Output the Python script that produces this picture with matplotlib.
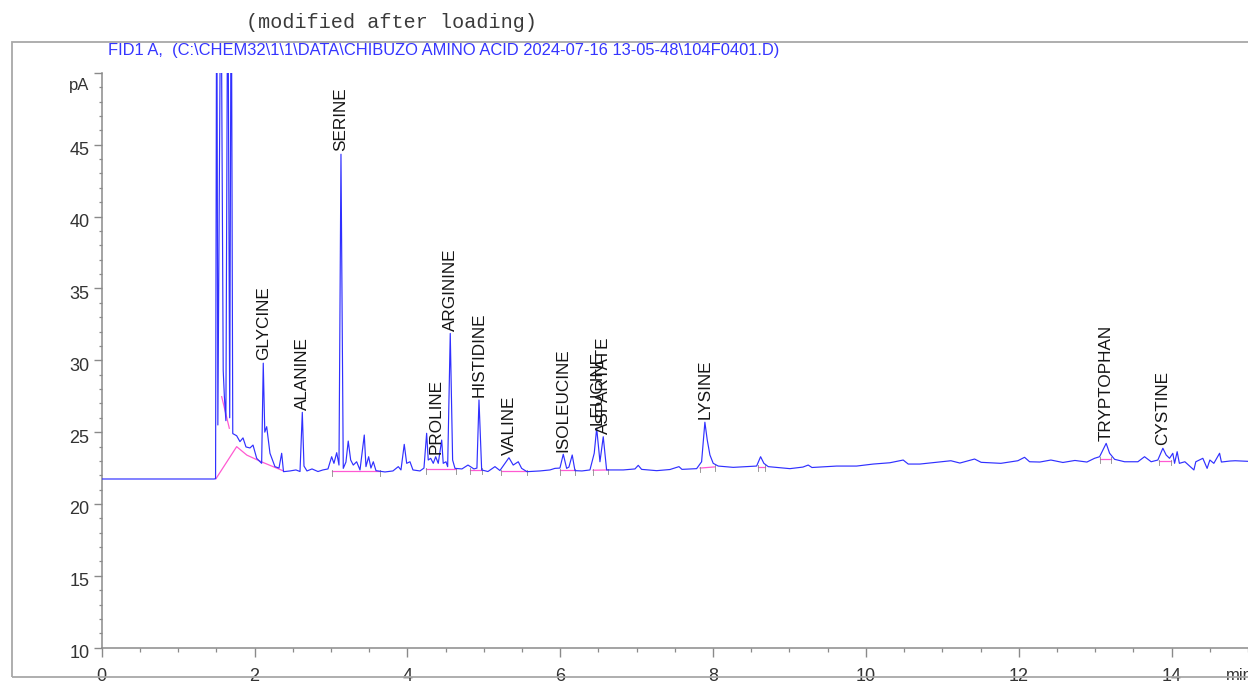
import matplotlib
matplotlib.use("Agg")
import matplotlib.pyplot as plt
import matplotlib.transforms as mtransforms
from matplotlib.ticker import MultipleLocator
from matplotlib.patches import Rectangle

# ---------------- data ----------------
trace_time = [
    0.000, 1.469, 1.490, 1.505, 1.520, 1.560, 1.590, 1.605, 1.625, 1.650,
    1.675, 1.695, 1.715, 1.766, 1.809, 1.849, 1.888, 1.940, 1.980, 2.028,
    2.093, 2.114, 2.134, 2.159, 2.202, 2.267, 2.320, 2.355, 2.379, 2.464,
    2.542, 2.595, 2.625, 2.647, 2.686, 2.752, 2.830, 2.895, 2.961, 3.009,
    3.039, 3.075, 3.105, 3.131, 3.161, 3.196, 3.226, 3.258, 3.292, 3.336,
    3.380, 3.436, 3.458, 3.493, 3.523, 3.554, 3.589, 3.707, 3.811, 3.881,
    3.916, 3.959, 3.991, 4.034, 4.073, 4.165, 4.217, 4.252, 4.273, 4.305,
    4.339, 4.370, 4.404, 4.449, 4.469, 4.505, 4.527, 4.561, 4.592, 4.623,
    4.714, 4.793, 4.871, 4.910, 4.937, 4.972, 5.054, 5.146, 5.211, 5.277,
    5.329, 5.385, 5.451, 5.495, 5.565, 5.735, 5.866, 5.931, 5.996, 6.040,
    6.084, 6.114, 6.157, 6.193, 6.284, 6.389, 6.445, 6.477, 6.520, 6.563,
    6.607, 6.825, 6.978, 7.021, 7.065, 7.262, 7.436, 7.554, 7.593, 7.785,
    7.850, 7.893, 7.924, 7.959, 8.002, 8.068, 8.264, 8.570, 8.622, 8.665,
    8.722, 9.006, 9.176, 9.245, 9.294, 9.617, 9.878, 10.096, 10.314, 10.488,
    10.554, 10.707, 11.112, 11.230, 11.422, 11.508, 11.766, 11.988, 12.076, 12.142,
    12.276, 12.421, 12.578, 12.735, 12.892, 12.992, 13.058, 13.144, 13.189, 13.254,
    13.385, 13.559, 13.646, 13.733, 13.820, 13.886, 13.929, 13.973, 14.016, 14.039,
    14.073, 14.102, 14.174, 14.292, 14.317, 14.409, 14.465, 14.501, 14.553, 14.628,
    14.652, 14.763, 14.833, 14.998,
]
trace_signal = [
    21.74, 21.74, 21.76, 60.00, 25.50, 60.00, 29.30, 27.50, 25.80, 60.00,
    26.00, 60.00, 24.90, 24.75, 24.34, 24.60, 23.97, 23.90, 24.10, 23.18,
    22.83, 29.80, 25.00, 25.38, 23.53, 22.60, 22.50, 23.53, 22.25, 22.30,
    22.37, 22.26, 26.38, 22.64, 22.30, 22.44, 22.26, 22.37, 22.44, 23.29,
    22.83, 23.57, 22.71, 44.34, 22.48, 22.92, 24.38, 23.06, 22.71, 22.94,
    22.37, 24.80, 22.60, 23.29, 22.50, 22.94, 22.32, 22.23, 22.30, 22.60,
    22.37, 24.15, 22.83, 22.94, 22.37, 22.30, 22.50, 24.92, 23.06, 23.18,
    22.83, 23.29, 22.83, 24.45, 22.83, 22.94, 22.60, 31.87, 23.06, 22.48,
    22.44, 22.71, 22.44, 22.50, 27.24, 22.37, 22.26, 22.60, 22.33, 22.83,
    23.22, 22.71, 22.94, 22.48, 22.25, 22.30, 22.37, 22.48, 22.50, 23.46,
    22.48, 22.57, 23.41, 22.32, 22.30, 22.37, 23.53, 25.27, 22.94, 24.68,
    22.37, 22.37, 22.44, 22.69, 22.41, 22.32, 22.40, 22.60, 22.41, 22.46,
    22.94, 25.69, 24.45, 23.41, 22.83, 22.64, 22.55, 22.64, 23.29, 22.83,
    22.60, 22.46, 22.57, 22.71, 22.54, 22.64, 22.64, 22.78, 22.87, 23.06,
    22.78, 22.78, 23.01, 22.85, 23.13, 22.90, 22.83, 23.01, 23.25, 22.94,
    22.92, 23.06, 22.89, 23.03, 22.92, 23.18, 23.29, 24.22, 23.53, 23.11,
    22.94, 22.94, 23.29, 22.94, 23.06, 23.88, 23.41, 23.18, 23.53, 22.83,
    23.64, 22.83, 22.94, 22.37, 22.94, 23.18, 22.48, 23.06, 22.83, 23.53,
    22.92, 22.99, 23.01, 22.97,
]

# integration baselines (pink)
solvent_baseline_time = [1.495, 1.766, 1.900, 2.093, 2.379]
solvent_baseline_signal = [21.76, 23.99, 23.40, 22.93, 22.30]
drop_line_time = [1.570, 1.670]
drop_line_signal = [27.47, 25.27]
baseline_segments = [
    (3.01, 22.27, 3.64, 22.27),
    (4.25, 22.41, 4.64, 22.41),
    (4.82, 22.40, 4.97, 22.40),
    (5.23, 22.30, 5.56, 22.30),
    (6.00, 22.35, 6.19, 22.35),
    (6.43, 22.35, 6.63, 22.37),
    (7.83, 22.50, 8.02, 22.58),
    (8.59, 22.60, 8.68, 22.60),
    (13.06, 23.15, 13.21, 23.15),
    (13.84, 22.99, 13.99, 22.99),
]

peak_names = ["GLYCINE", "ALANINE", "SERINE", "PROLINE", "ARGININE", "HISTIDINE",
              "VALINE", "ISOLEUCINE", "LEUCINE", "ASPARTATE", "LYSINE",
              "TRYPTOPHAN", "CYSTINE"]
peak_times = [2.114, 2.625, 3.131, 4.370, 4.561, 4.937, 5.329, 6.040, 6.477,
              6.563, 7.893, 13.144, 13.886]
peak_apex = [29.80, 26.38, 44.34, 23.29, 31.87, 27.24, 23.22, 23.46, 25.27,
             24.68, 25.69, 24.22, 23.88]

x_major = [0, 2, 4, 6, 8, 10, 12, 14]
y_major = [10, 15, 20, 25, 30, 35, 40, 45, 50]
y_labels = ["10", "15", "20", "25", "30", "35", "40", "45", ""]

title_text = r"FID1 A,  (C:\CHEM32\1\1\DATA\CHIBUZO AMINO ACID 2024-07-16 13-05-48\104F0401.D)"
header_text = "(modified after loading)"

# ---------------- figure ----------------
W, H = 1248, 681
fig = plt.figure(figsize=(W / 100, H / 100), dpi=100)
fig.patch.set_facecolor("white")

ax_left, ax_bottom_px, ax_top_px = 101.7, 647.7, 72.9
ax = fig.add_axes([ax_left / W, (H - ax_bottom_px) / H,
                   1 - ax_left / W, (ax_bottom_px - ax_top_px) / H])
ax.set_xlim(0, 15.0)
ax.set_ylim(10, 50)
ax.patch.set_alpha(0)

blue = "#3030ff"
pink = "#ff5ad2"

ax.plot(solvent_baseline_time, solvent_baseline_signal, color=pink, lw=0.9, zorder=2)
ax.plot(drop_line_time, drop_line_signal, color=pink, lw=0.9, zorder=2)
for (t0, y0, t1, y1) in baseline_segments:
    ax.plot([t0, t1], [y0, y1], color=pink, lw=0.9, zorder=2)
    for tt, yy in ((t0, y0), (t1, y1)):
        ax.plot([tt, tt], [yy - 0.3, yy + 0.1], color="#8a8a8a", lw=0.6, zorder=2)

ax.plot(trace_time, trace_signal, color=blue, lw=0.85, zorder=3)

for name, t, y in zip(peak_names, peak_times, peak_apex):
    ax.annotate(name, (t, y), xytext=(0, 2), textcoords="offset points",
                rotation=90, ha="center", va="bottom", fontsize=12.3,
                family="Liberation Sans", color="#151515", annotation_clip=False,
                zorder=4)

for s in ("top", "right"):
    ax.spines[s].set_visible(False)
for s in ("left", "bottom"):
    ax.spines[s].set_color("#8a8a8a")
    ax.spines[s].set_linewidth(1.1)

ax.set_xticks(x_major)
ax.xaxis.set_minor_locator(MultipleLocator(0.5))
ax.set_yticks(y_major)
ax.set_yticklabels(y_labels)
ax.yaxis.set_minor_locator(MultipleLocator(1))

ax.tick_params(axis="x", which="major", direction="out", length=6.5, width=1.0,
               color="#8a8a8a", labelsize=13, pad=8.0, labelcolor="#333333")
ax.tick_params(axis="x", which="minor", direction="out", length=2.9, width=0.9,
               color="#8a8a8a")
ax.tick_params(axis="y", which="major", direction="out", length=6.0, width=1.0,
               color="#8a8a8a", labelsize=13, pad=2.9, labelcolor="#333333")
ax.tick_params(axis="y", which="minor", direction="out", length=2.5, width=0.9,
               color="#8a8a8a")
for lab in ax.get_xticklabels() + ax.get_yticklabels():
    lab.set_family("Liberation Sans")

offset = mtransforms.ScaledTranslation(0, -4 / 100, fig.dpi_scale_trans)
for tick in ax.yaxis.get_major_ticks():
    tick.label1.set_transform(tick.label1.get_transform() + offset)

# ---------------- texts & frame ----------------
title = fig.text(108 / W, 1 - 50.7 / H, title_text, color="#3535ff", fontsize=11.7,
                 family=["Liberation Sans Narrow", "Liberation Sans"],
                 ha="left", va="center")
renderer = fig.canvas.get_renderer()
bb = title.get_window_extent(renderer)
title.set_fontsize(11.7 * 672 / bb.width)

fig.text(391.5 / W, 1 - 23 / H, header_text, family="Liberation Mono",
         fontsize=14.5, color="#3a3a3a", ha="center", va="center")
fig.text(79 / W, 1 - 85.5 / H, "pA", family="Liberation Sans", fontsize=12,
         color="#333333", ha="center", va="center")
fig.text(1226 / W, 1 - 675 / H, "min", family="Liberation Sans", fontsize=12,
         color="#333333", ha="left", va="center")

frame = Rectangle((11.7 / W, (H - 677) / H), (1262 - 11.7) / W, (677 - 41.7) / H,
                  transform=fig.transFigure, fill=False, ec="#a8a8a8", lw=1.3,
                  zorder=10)
fig.add_artist(frame)

fig.savefig("out.png", dpi=100, facecolor="white")
